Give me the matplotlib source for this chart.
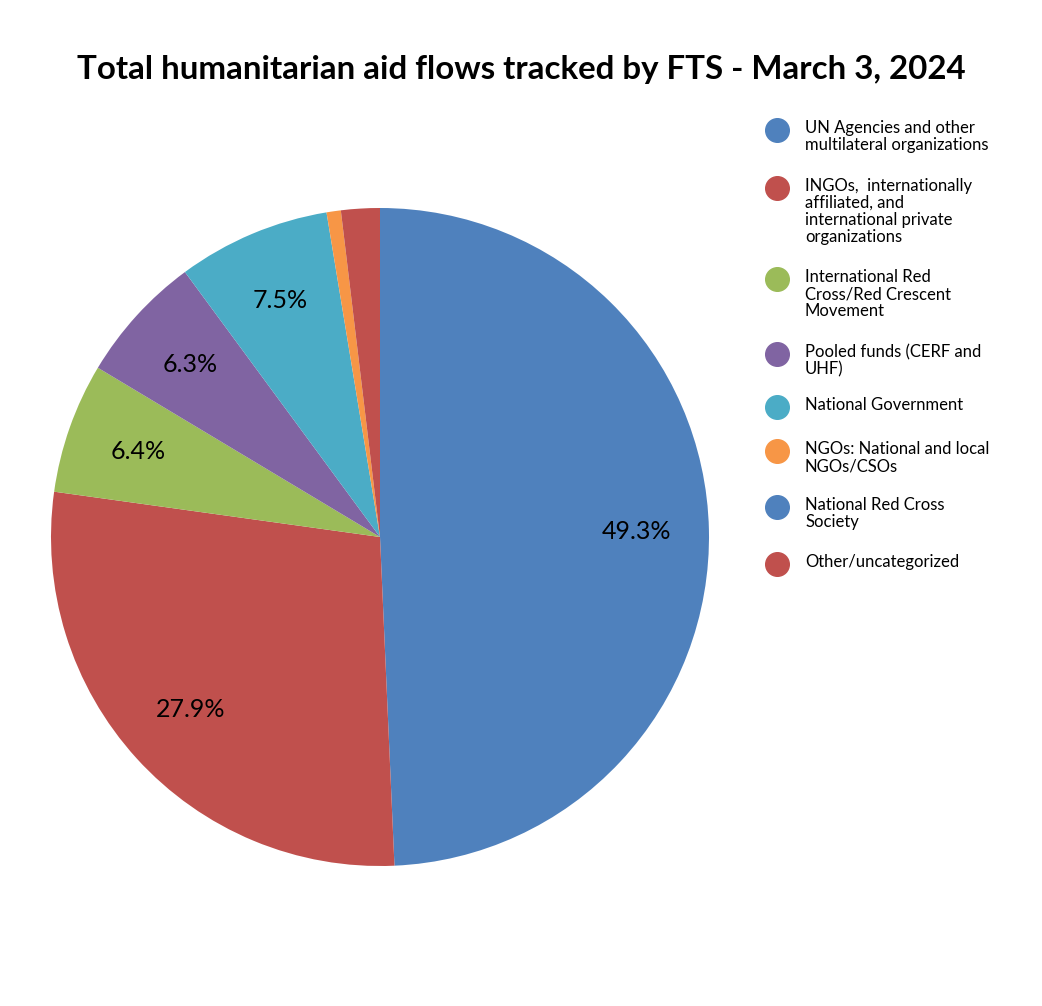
import matplotlib.pyplot as plt
from matplotlib.lines import Line2D

# 数据
categories = [
    'UN Agencies and other\nmultilateral organizations',
    'INGOs,  internationally\naffiliated, and\ninternational private\norganizations',
    'International Red\nCross/Red Crescent\nMovement',
    'Pooled funds (CERF and\nUHF)',
    'National Government',
    'NGOs: National and local\nNGOs/CSOs',
    'National Red Cross\nSociety',
    'Other/uncategorized',
]
shares = [49.3, 27.9, 6.4, 6.3, 7.5, 0.7, 0.0, 1.9]
colors = ['#4F81BD', '#C0504D', '#9BBB59', '#8064A2', '#4BACC6', '#F79646', '#4F81BD', '#C0504D']

plt.rcParams['font.family'] = ['Lato', 'DejaVu Sans']

W, H = 1042, 1006
fig = plt.figure(figsize=(W / 100, H / 100), dpi=100)

# 饼图位置：圆心 (380, 537)，半径 329 像素
cx, cy, r = 380, 537, 329
ax = fig.add_axes([(cx - r) / W, (H - cy - r) / H, 2 * r / W, 2 * r / H])


def fmt(p):
    return f'{p:.1f}%' if p > 5 else ''


ax.pie(shares, colors=colors, startangle=90, counterclock=False,
       autopct=fmt, pctdistance=0.78, radius=1.0,
       textprops={'fontsize': 18, 'color': 'black'},
       wedgeprops={'linewidth': 0})
ax.set_xlim(-1, 1)
ax.set_ylim(-1, 1)
ax.set_aspect('equal')
ax.axis('off')

fig.text(521 / W, 1 - 70 / H, 'Total humanitarian aid flows tracked by FTS - March 3, 2024',
         ha='center', va='center', fontsize=23.8, fontweight='bold')

# 图例（手动绘制，圆点对齐第一行文字）
leg_y = [130, 188, 279, 354, 407, 451, 507, 564]
for lab, col, y in zip(categories, colors, leg_y):
    fig.add_artist(Line2D([777 / W], [1 - y / H], marker='o', markersize=17,
                          color=col, linestyle='none', transform=fig.transFigure))
    fig.text(805 / W, 1 - (y - 10) / H, lab, ha='left', va='top',
             fontsize=12, linespacing=1.08)

plt.savefig('out.png', dpi=100)
